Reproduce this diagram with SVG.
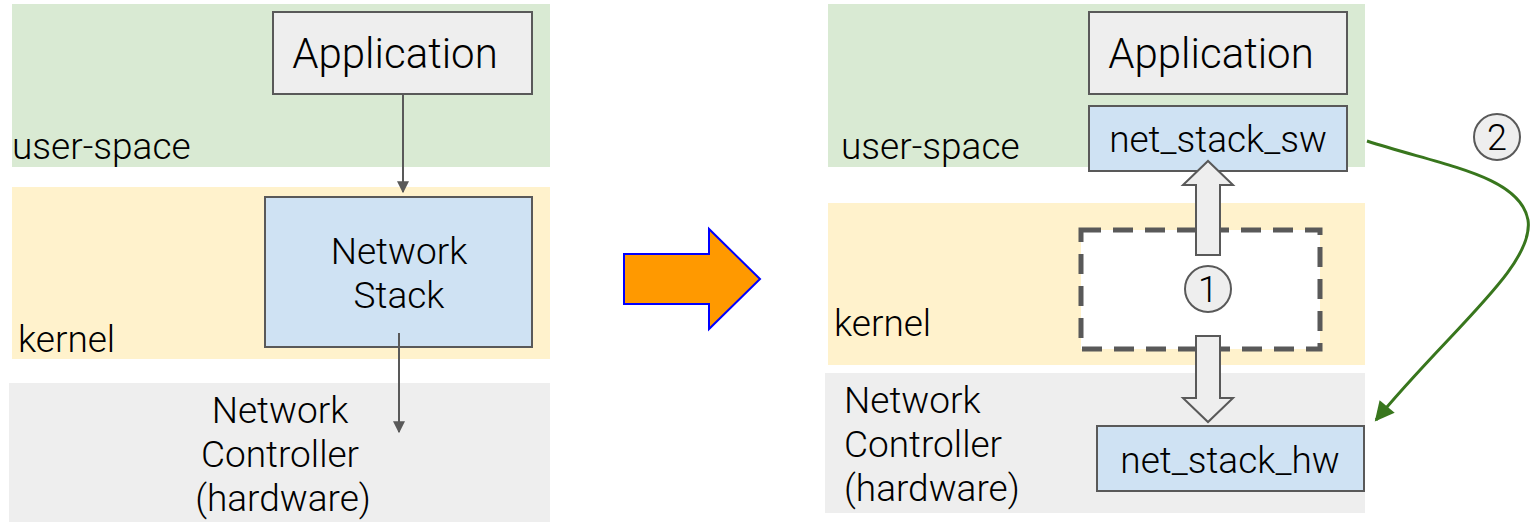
<svg xmlns="http://www.w3.org/2000/svg" width="1532" height="522" viewBox="0 0 1532 522">
  <style>
    text { font-family: Roboto, "Liberation Sans", sans-serif; font-weight: 300; fill: #000; }
    .big { font-size: 42px; }
    .mid { font-size: 37px; }
    .num { font-size: 36px; }
    .user { fill: #d9ead3; }
    .kern { fill: #fff2cc; }
    .hw { fill: #eeeeee; }
    .box { stroke: #595959; stroke-width: 2; }
    .grey { fill: #eeeeee; }
    .blue { fill: #cfe2f3; }
    .wire { stroke: #595959; stroke-width: 2; fill: none; }
    .block { fill: #eeeeee; stroke: #595959; stroke-width: 2; }
  </style>
  <defs>
    <marker id="tip" viewBox="0 0 10 10" refX="9" refY="5" markerWidth="6" markerHeight="6" orient="auto">
      <path d="M0,0 L10,5 L0,10 z" fill="#595959"/>
    </marker>
    <marker id="tipGreen" viewBox="0 0 10 10" refX="9" refY="5" markerWidth="7" markerHeight="6.5" orient="auto">
      <path d="M0,0 L10,5 L0,10 z" fill="#38761d"/>
    </marker>
  </defs>

  <!-- layer bands, before -->
  <g id="bands-left">
    <rect class="user" x="12" y="4" width="538" height="163"/>
    <rect class="kern" x="12" y="187" width="538" height="172"/>
    <rect class="hw" x="9" y="383" width="541" height="139"/>
    <text class="mid" x="12" y="159">user-space</text>
    <text class="mid" x="18" y="352">kernel</text>
  </g>

  <g id="app-left">
    <rect class="box grey" x="273" y="12" width="259" height="82"/>
    <text class="big" x="395" y="68" text-anchor="middle">Application</text>
  </g>

  <g id="netstack-left">
    <rect class="box blue" x="265" y="197" width="267" height="150"/>
    <text class="mid" x="399" y="264" text-anchor="middle">Network</text>
    <text class="mid" x="399" y="308" text-anchor="middle">Stack</text>
  </g>

  <g id="hw-left">
    <text class="mid" x="280" y="423" text-anchor="middle">Network</text>
    <text class="mid" x="280" y="467" text-anchor="middle">Controller</text>
    <text class="mid" x="283" y="511" text-anchor="middle">(hardware)</text>
  </g>

  <!-- transition arrow -->
  <g id="transform-arrow">
    <path d="M624,254 L709,254 L709,229 L760,279 L709,329 L709,304 L624,304 z" fill="#ff9900" stroke="#0000ff" stroke-width="2"/>
  </g>

  <!-- layer bands, after -->
  <g id="bands-right">
    <rect class="user" x="828" y="4" width="537" height="163"/>
    <rect class="kern" x="828" y="203" width="537" height="162"/>
    <rect class="hw" x="825" y="373" width="540" height="140"/>
    <text class="mid" x="841" y="159">user-space</text>
    <text class="mid" x="834" y="336">kernel</text>
    <text class="mid" x="844" y="413">Network</text>
    <text class="mid" x="844" y="457">Controller</text>
    <text class="mid" x="844" y="501">(hardware)</text>
  </g>

  <g id="app-right">
    <rect class="box grey" x="1089" y="12" width="258" height="82"/>
    <text class="big" x="1211" y="68" text-anchor="middle">Application</text>
  </g>

  <g id="net-stack-sw">
    <rect class="box blue" x="1089" y="106" width="258" height="65"/>
    <text class="mid" x="1218" y="152" text-anchor="middle">net_stack_sw</text>
  </g>

  <g id="removed-stack">
    <rect x="1081" y="230" width="239" height="119" fill="#ffffff" stroke="#595959" stroke-width="5" stroke-dasharray="20,12"/>
  </g>

  <g id="net-stack-hw">
    <rect class="box blue" x="1097" y="426" width="267" height="65"/>
    <text class="mid" x="1230" y="473" text-anchor="middle">net_stack_hw</text>
  </g>

  <g id="connectors">
    <line class="wire" x1="403" y1="94" x2="403" y2="192" marker-end="url(#tip)"/>
    <line class="wire" x1="399" y1="333" x2="399" y2="432" marker-end="url(#tip)"/>
    <!-- block arrows through the kernel -->
    <path class="block" d="M1196,255 L1196,185 L1183,185 L1208,161 L1233,185 L1220,185 L1220,255 z"/>
    <path class="block" d="M1196,336 L1196,398 L1183,398 L1208,422 L1233,398 L1220,398 L1220,336 z"/>
    <!-- bypass path -->
    <path d="M1367,141 C1440,165 1520,175 1528,220 C1535,265 1450,330 1376,420" stroke="#38761d" stroke-width="3" fill="none" marker-end="url(#tipGreen)"/>
  </g>

  <g id="step-1">
    <ellipse cx="1208" cy="289" rx="23" ry="23" fill="#eeeeee" stroke="#595959" stroke-width="2"/>
    <text class="num" x="1208" y="302" text-anchor="middle">1</text>
  </g>

  <g id="step-2">
    <ellipse cx="1497" cy="137" rx="23" ry="23" fill="#eeeeee" stroke="#595959" stroke-width="2"/>
    <text class="num" x="1497" y="150" text-anchor="middle">2</text>
  </g>
</svg>
